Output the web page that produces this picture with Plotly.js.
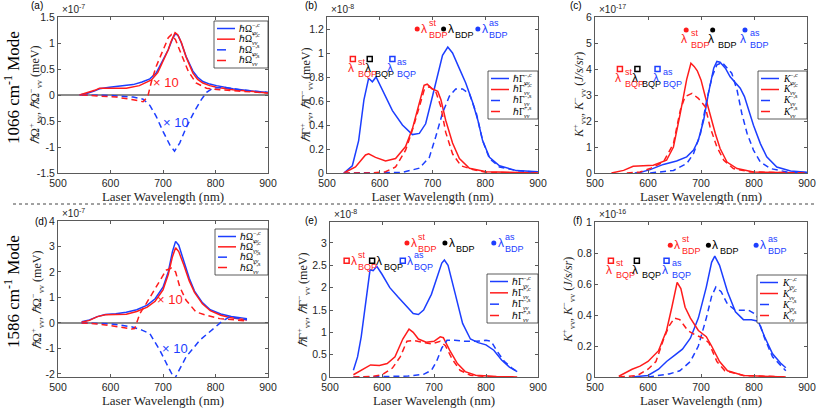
<!DOCTYPE html>
<html><head><meta charset="utf-8">
<script src="https://cdn.plot.ly/plotly-3.0.1.min.js"></script>
<style>html,body{margin:0;padding:0;background:#fff}#chart{width:817px;height:409px}</style>
</head><body><div id="chart"></div>
<script>
// ---------- DATA ----------
// (a) 1066 cm-1, hbar*Omega (x1e-7 meV); s-components shown x10
const a_mc_x=[541,555,570,579,598,620,643,660,675,687,694,702,710,715,719,724,729,735,744,757,766,776,789,802,833,865,900];
const a_mc_y=[0,0.03,0.08,0.12,0.15,0.17,0.2,0.25,0.31,0.42,0.55,0.7,0.87,1.0,1.1,1.18,1.14,1.0,0.74,0.46,0.34,0.26,0.21,0.18,0.12,0.08,0.05];
const a_pc_x=[541,555,570,579,590,605,630,655,678,690,697,705,710,715,719,723,728,735,744,757,766,776,789,802,833,865,900];
const a_pc_y=[0,0.04,0.09,0.13,0.13,0.12,0.13,0.18,0.29,0.43,0.58,0.74,0.87,1.02,1.12,1.2,1.16,1.01,0.73,0.42,0.3,0.23,0.18,0.15,0.1,0.07,0.04];
const a_ms_x=[545,600,643,662,675,687,700,713,722,732,744,760,773,783,795,814,846,900];
const a_ms_y=[0,-0.01,-0.04,-0.08,-0.2,-0.41,-0.7,-0.96,-1.08,-0.92,-0.63,-0.31,-0.09,0.05,0.13,0.15,0.1,0.05];
const a_ps_x=[545,580,611,643,662,671,678,687,700,710,716,724,735,748,763,783,808,846,900];
const a_ps_y=[0,-0.02,-0.04,-0.09,-0.13,-0.03,0.26,0.55,0.87,1.1,1.16,1.06,0.78,0.46,0.23,0.13,0.1,0.07,0.04];
// (b) 1066 cm-1, hbar*Gamma (x1e-8 meV)
const b_mc_x=[532,548,560,570,579,586,593,605,624,643,662,675,687,700,710,719,729,738,751,763,776,786,795,808,827,859,900];
const b_mc_y=[0,0.06,0.27,0.61,0.79,0.76,0.8,0.69,0.52,0.4,0.32,0.33,0.41,0.64,0.83,0.98,1.05,1.0,0.87,0.75,0.59,0.44,0.27,0.13,0.06,0.02,0.01];
const b_pc_x=[532,554,573,579,592,611,630,649,662,675,684,690,700,710,716,725,738,751,770,802,900];
const b_pc_y=[0,0.05,0.15,0.16,0.13,0.1,0.12,0.22,0.37,0.58,0.73,0.74,0.7,0.68,0.61,0.44,0.25,0.12,0.04,0.01,0];
const b_ms_x=[532,600,643,675,694,706,719,732,744,757,770,783,795,808,827,859,900];
const b_ms_y=[0,0.002,0.005,0.04,0.13,0.3,0.5,0.64,0.7,0.7,0.66,0.5,0.27,0.12,0.05,0.02,0.005];
const b_ps_x=[532,579,611,630,649,662,675,684,694,706,716,725,738,754,776,802,900];
const b_ps_y=[0,0,0.01,0.05,0.19,0.36,0.55,0.69,0.72,0.68,0.55,0.34,0.16,0.06,0.03,0.005,0];
// (c) 1066 cm-1, K (x1e-17 J/s/sr)
const c_mc_x=[575,585,604,629,654,673,686,695,705,714,724,730,736,746,755,765,774,782,790,799,812,824,843,869,900];
const c_mc_y=[0,0.02,0.13,0.33,0.46,0.62,0.88,1.26,2.03,3.06,4.03,4.29,4.26,4.03,3.7,3.45,3.26,2.94,2.42,1.84,1.13,0.62,0.23,0.08,0.03];
const c_pc_x=[531,554,572,585,610,635,648,661,673,681,687,693,700,708,717,727,736,749,768,799,900];
const c_pc_y=[0,0.1,0.26,0.27,0.3,0.49,1.0,2.3,3.6,4.22,4.1,3.93,3.58,2.94,2.23,1.52,0.94,0.42,0.17,0.04,0];
const c_ms_x=[604,648,673,686,699,711,721,730,740,749,758,768,777,787,799,812,831,862,900];
const c_ms_y=[0,0.1,0.36,0.75,1.52,2.81,3.71,4.16,4.25,4.03,3.84,3.19,2.29,1.52,0.88,0.42,0.17,0.04,0.01];
const c_ps_x=[560,585,604,629,648,661,670,683,695,708,717,730,743,761,793,900];
const c_ps_y=[0,0.04,0.17,0.42,1.13,2.42,2.94,3.06,2.87,2.55,1.78,1.0,0.49,0.17,0.04,0];
// (d) 1586 cm-1, hbar*Omega (x1e-7 meV)
const d_mc_x=[545,560,575,590,610,630,650,670,685,700,710,718,724,730,740,750,760,775,790,810,830,845,860];
const d_mc_y=[0.05,0.12,0.25,0.33,0.36,0.42,0.52,0.7,0.95,1.4,2.0,2.8,3.2,3.05,2.4,1.75,1.25,0.8,0.52,0.35,0.25,0.2,0.17];
const d_pc_x=[545,560,575,590,610,630,650,670,685,700,710,718,724,730,740,750,760,775,790,810,830,845,860];
const d_pc_y=[0.03,0.1,0.25,0.32,0.33,0.34,0.45,0.62,0.85,1.3,1.9,2.6,2.95,2.8,2.25,1.65,1.2,0.75,0.48,0.3,0.2,0.15,0.12];
const d_ms_x=[545,600,640,660,675,694,710,722,732,744,770,795,811,827,846,860];
const d_ms_y=[0,-0.03,-0.15,-0.28,-0.42,-1.07,-1.73,-2.2,-1.8,-1.33,-0.68,-0.22,0.04,0.24,0.17,0.13];
const d_ps_x=[545,570,600,625,640,646,656,668,681,694,706,716,724,732,744,763,783,808,830,860];
const d_ps_y=[0,-0.03,-0.1,-0.18,-0.24,-0.22,0.37,0.76,1.22,1.67,2.07,2.15,2.0,1.41,0.89,0.43,0.3,0.17,0.12,0.08];
// (e) 1586 cm-1, hbar*Gamma (x1e-8 meV)
const e_mc_x=[545,553,560,570,577,583,590,600,615,630,645,660,670,680,695,705,715,720,727,740,755,770,785,800,815,830,845,860];
const e_mc_y=[0.15,0.45,0.9,1.8,2.4,2.38,2.48,2.3,2.0,1.8,1.6,1.42,1.4,1.5,1.85,2.2,2.55,2.62,2.5,1.9,1.2,0.85,0.77,0.72,0.6,0.38,0.22,0.12];
const e_pc_x=[545,560,578,595,610,625,640,652,660,670,685,700,712,718,730,745,760,780,820,860];
const e_pc_y=[0.05,0.15,0.27,0.26,0.3,0.45,0.85,1.07,1.0,0.85,0.78,0.8,0.9,0.88,0.6,0.3,0.12,0.04,0.01,0];
const e_ms_x=[545,650,680,695,705,715,725,740,760,780,800,810,820,835,850,860];
const e_ms_y=[0,0.02,0.06,0.15,0.35,0.65,0.82,0.82,0.8,0.8,0.82,0.8,0.6,0.35,0.2,0.12];
const e_ps_x=[545,580,600,620,635,648,660,675,695,712,722,735,750,770,800,860];
const e_ps_y=[0,0.01,0.05,0.2,0.45,0.8,0.82,0.78,0.74,0.8,0.7,0.4,0.15,0.04,0.01,0];
// (f) 1586 cm-1, K (x1e-16 J/s/sr)
const f_mc_x=[570,600,620,635,650,665,680,695,710,720,726,735,750,765,780,795,808,820,835,850,860];
const f_mc_y=[0,0.01,0.05,0.1,0.14,0.18,0.25,0.38,0.58,0.74,0.78,0.72,0.55,0.42,0.37,0.37,0.36,0.26,0.15,0.09,0.06];
const f_pc_x=[545,570,585,600,620,635,645,655,662,670,680,695,710,720,735,750,780,860];
const f_pc_y=[0.005,0.05,0.07,0.1,0.17,0.3,0.45,0.61,0.57,0.45,0.38,0.3,0.26,0.2,0.1,0.04,0.01,0];
const f_ms_x=[600,640,660,680,695,710,720,728,738,750,765,790,805,820,835,850,860];
const f_ms_y=[0,0.02,0.04,0.1,0.2,0.38,0.52,0.58,0.55,0.47,0.43,0.43,0.4,0.25,0.13,0.08,0.04];
const f_ps_x=[545,580,600,615,630,640,650,660,675,690,705,715,730,745,780,860];
const f_ps_y=[0,0.01,0.05,0.1,0.25,0.33,0.38,0.37,0.3,0.27,0.25,0.22,0.1,0.04,0.01,0];

// lambda markers: squares = BQP-related, circles = BDP-related (order: st, plain, as)
const b_sq_x=[549,581,624], b_sq_y=[0.95,0.95,0.95], b_ci_x=[671,721,786], b_ci_y=[1.2,1.2,1.2];
const c_sq_x=[547,580,618], c_sq_y=[4.0,4.0,4.0], c_ci_x=[672,722,783], c_ci_y=[5.5,5.5,5.5];
const e_sq_x=[532,581,640], e_sq_y=[2.6,2.6,2.6], e_ci_x=[648,721,815], e_ci_y=[3.0,3.0,3.0];
const f_sq_x=[530,579,635], f_sq_y=[0.75,0.75,0.75], f_ci_x=[642,714,804], f_ci_y=[0.85,0.85,0.85];
const lamSup=['st','','as'];

// "x 10" magnification notes [x, y]
const a_x10_red=[705,0.24], a_x10_blue=[724,-0.53];
const d_x10_red=[714,0.92], d_x10_blue=[723,-1.0];

// tick labels
const xTicks=[500,600,700,800,900];
const aTickVals=[-1.5,-1,-0.5,0,0.5,1,1.5], aTickText=['-1.5','-1','-0.5','0','0.5','1','1.5'];
const dTickVals=[-2,-1,0,1,2,3,4], dTickText=['-2','-1','0','1','2','3','4'];
const legSup=['−,c','+,c','−,s','+,s'];

// ---------- STYLE ----------
const BLUE='rgb(28,62,255)', RED='rgb(255,28,28)', BLACK='#000';
const SERIF='"Liberation Serif","Times New Roman",serif';
const SANS='"Liberation Sans",Arial,Helvetica,sans-serif';
const W=817,H=409;
const AXC='#5a5a5a';
const px=v=>v/W, py=v=>1-v/H;

const panels=[
 {s:'', box:[58,268,17,173], yr:[-1.5,1.5], tv:aTickVals, tt:aTickText, exp:'×10<sup>-7</sup>', lab:'(a)', labP:[37,6], zero:true,
  yt:'<i>ℏ</i>Ω<sup>+</sup><sub>vv</sub>, <i>ℏ</i>Ω<sup>−</sup><sub>vv</sub> (meV)', ytP:[35,95],
  ser:[[a_mc_x,a_mc_y],[a_pc_x,a_pc_y],[a_ms_x,a_ms_y],[a_ps_x,a_ps_y]], leg:[214,268,21,68], lb:'ℏΩ', lbw:12.5},
 {s:'2', box:[327,538,17,173], yr:[0,1.3], dt:0.2, exp:'×10<sup>-8</sup>', lab:'(b)', labP:[311,6],
  yt:'<i>ℏ</i>Γ<sup>+</sup><sub>vv</sub>, <i>ℏ</i>Γ<sup>−</sup><sub>vv</sub> (meV)', ytP:[306,95],
  ser:[[b_mc_x,b_mc_y],[b_pc_x,b_pc_y],[b_ms_x,b_ms_y],[b_ps_x,b_ps_y]], leg:[488,538,71,119], lb:'ℏΓ', lbw:11,
  sq:[b_sq_x,b_sq_y,'below'], ci:[b_ci_x,b_ci_y,'right']},
 {s:'3', box:[595,807,17,173], yr:[0,6], dt:1, exp:'×10<sup>-17</sup>', lab:'(c)', labP:[576,6],
  yt:'<i>K</i><sup>+</sup><sub>vv</sub>, <i>K</i><sup>−</sup><sub>vv</sub> (<i>J/s/sr</i>)', ytP:[579,95],
  ser:[[c_mc_x,c_mc_y],[c_pc_x,c_pc_y],[c_ms_x,c_ms_y],[c_ps_x,c_ps_y]], leg:[758,807,71,119], lb:'<i>K</i>', lbw:7,
  sq:[c_sq_x,c_sq_y,'below'], ci:[c_ci_x,c_ci_y,'below']},
 {s:'4', box:[58,268,221,377], yr:[-2.12,4], tv:dTickVals, tt:dTickText, exp:'×10<sup>-7</sup>', lab:'(d)', labP:[41,221], zero:true,
  yt:'<i>ℏ</i>Ω<sup>+</sup><sub>vv</sub>, <i>ℏ</i>Ω<sup>−</sup><sub>vv</sub> (meV)', ytP:[37,300],
  ser:[[d_mc_x,d_mc_y],[d_pc_x,d_pc_y],[d_ms_x,d_ms_y],[d_ps_x,d_ps_y]], leg:[215,268,229,275], lb:'ℏΩ', lbw:12.5},
 {s:'5', box:[330,538,222,377], yr:[0,3.47], dt:0.5, exp:'×10<sup>-8</sup>', lab:'(e)', labP:[311,220],
  yt:'<i>ℏ</i>Γ<sup>+</sup><sub>vv</sub>, <i>ℏ</i>Γ<sup>−</sup><sub>vv</sub> (meV)', ytP:[303,300],
  ser:[[e_mc_x,e_mc_y],[e_pc_x,e_pc_y],[e_ms_x,e_ms_y],[e_ps_x,e_ps_y]], leg:[487,538,274,323], lb:'ℏΓ', lbw:11,
  sq:[e_sq_x,e_sq_y,'right'], ci:[e_ci_x,e_ci_y,'right']},
 {s:'6', box:[595,807,222,377], yr:[0,1], dt:0.2, exp:'×10<sup>-16</sup>', lab:'(f)', labP:[577,220],
  yt:'<i>K</i><sup>+</sup><sub>vv</sub>, <i>K</i><sup>−</sup><sub>vv</sub> (<i>J/s/sr</i>)', ytP:[568,300],
  ser:[[f_mc_x,f_mc_y],[f_pc_x,f_pc_y],[f_ms_x,f_ms_y],[f_ps_x,f_ps_y]], leg:[757,807,275,323], lb:'<i>K</i>', lbw:7,
  sq:[f_sq_x,f_sq_y,'below'], ci:[f_ci_x,f_ci_y,'right']}
];

const colors=[BLUE,RED,BLUE,RED];
const dashes=['solid','solid','6px,4px','6px,4px'];
const lamColors=[RED,BLACK,BLUE];
const traces=[], anns=[], shapes=[];
const layout={width:W,height:H,margin:{l:0,r:0,t:0,b:0},paper_bgcolor:'#fff',plot_bgcolor:'#fff',showlegend:false,
  font:{family:SANS,size:10,color:'#262626'}};

function lamLabel(s,x,y,color,sup,sub,mode){
  const b={xref:'x'+s,yref:'y'+s,x:x,y:y,showarrow:false,borderpad:0,align:'left'};
  const fs={family:SANS,size:9,color:color};
  if(mode==='right'){
    anns.push({...b,text:'λ',font:{family:SANS,size:12,color:color},xanchor:'left',yanchor:'middle',xshift:3,yshift:0});
    if(sup) anns.push({...b,text:sup+'<br>'+sub,font:fs,xanchor:'left',yanchor:'middle',xshift:10.5,yshift:0});
    else anns.push({...b,text:sub,font:fs,xanchor:'left',yanchor:'middle',xshift:10.5,yshift:-6});
  } else {
    anns.push({...b,text:'λ',font:{family:SANS,size:12,color:color},xanchor:'center',yanchor:'middle',xshift:-2,yshift:-9});
    if(sup) anns.push({...b,text:sup+'<br>'+sub,font:fs,xanchor:'left',yanchor:'middle',xshift:4,yshift:-8.5});
    else anns.push({...b,text:sub,font:fs,xanchor:'left',yanchor:'middle',xshift:4,yshift:-14.5});
  }
}

panels.forEach(p=>{
  const xa='xaxis'+p.s, ya='yaxis'+p.s, xr='x'+p.s, yr='y'+p.s;
  const common={showline:true,linecolor:AXC,linewidth:1,mirror:'ticks',ticks:'inside',ticklen:3,tickcolor:AXC,
    showgrid:false,tickfont:{family:SANS,size:10.5,color:'#262626'}};
  layout[xa]={...common,domain:[px(p.box[0]),px(p.box[1])],anchor:yr,range:[500,900],tickvals:xTicks,zeroline:false,
    title:{text:'Laser Wavelength (nm)',font:{family:SERIF,size:13,color:'#262626'},standoff:3}};
  layout[ya]={...common,domain:[py(p.box[3]),py(p.box[2])],anchor:xr,range:p.yr,
    zeroline:!!p.zero,zerolinecolor:'#8c8c8c',zerolinewidth:2};
  if(p.tv){layout[ya].tickvals=p.tv;layout[ya].ticktext=p.tt;} else {layout[ya].dtick=p.dt;layout[ya].tick0=0;}
  // y-axis title as rotated annotation for exact placement
  anns.push({xref:'paper',yref:'paper',x:px(p.ytP[0]),y:py(p.ytP[1]),xanchor:'center',yanchor:'middle',textangle:-90,
    showarrow:false,text:p.yt,font:{family:SERIF,size:12,color:'#262626'}});
  p.ser.forEach((sv,i)=>{
    traces.push({x:sv[0],y:sv[1],xaxis:xr,yaxis:yr,mode:'lines',hoverinfo:'skip',
      line:{color:colors[i],width:1.5,dash:dashes[i]}});
  });
  if(p.sq){
    traces.push({x:p.sq[0],y:p.sq[1],xaxis:xr,yaxis:yr,mode:'markers',hoverinfo:'skip',
      marker:{symbol:'square-open',size:5,color:lamColors,line:{width:1.5,color:lamColors}}});
    traces.push({x:p.ci[0],y:p.ci[1],xaxis:xr,yaxis:yr,mode:'markers',hoverinfo:'skip',
      marker:{symbol:'circle',size:5,color:lamColors}});
    p.sq[0].forEach((x,k)=>lamLabel(p.s,x,p.sq[1][k],lamColors[k],lamSup[k],'BQP',p.sq[2]));
    p.ci[0].forEach((x,k)=>lamLabel(p.s,x,p.ci[1][k],lamColors[k],lamSup[k],'BDP',p.ci[2]));
  }
  // exponent and panel label
  anns.push({xref:'paper',yref:'paper',x:px(p.box[0]),y:py(p.box[2]),xanchor:'left',yanchor:'bottom',xshift:2,yshift:0,
    text:p.exp,showarrow:false,font:{family:SANS,size:10,color:'#262626'}});
  anns.push({xref:'paper',yref:'paper',x:px(p.labP[0]),y:py(p.labP[1]),xanchor:'center',yanchor:'middle',
    text:p.lab,showarrow:false,font:{family:SANS,size:10,color:'#000'}});
  // legend box
  const L=p.leg;
  shapes.push({type:'rect',xref:'paper',yref:'paper',x0:px(L[0]),x1:px(L[1]),y0:py(L[3]),y1:py(L[2]),
    line:{color:'#333',width:0.8},fillcolor:'#fff',layer:'above'});
  const step=(L[3]-L[2]-15)/3;
  for(let i=0;i<4;i++){
    const yy=L[2]+7.5+i*step;
    shapes.push({type:'line',xref:'paper',yref:'paper',x0:px(L[0]+3),x1:px(L[0]+21),y0:py(yy),y1:py(yy),
      line:{color:colors[i],width:1.5,dash:i<2?'solid':'dash'},layer:'above'});
    anns.push({xref:'paper',yref:'paper',x:px(L[0]+24),y:py(yy),xanchor:'left',yanchor:'middle',showarrow:false,borderpad:0,
      text:p.lb,font:{family:SERIF,size:9.5,color:'#000'}});
    anns.push({xref:'paper',yref:'paper',x:px(L[0]+24+p.lbw),y:py(yy),xanchor:'left',yanchor:'middle',showarrow:false,borderpad:0,
      align:'left',text:legSup[i]+'<br><i>vv</i>',font:{family:SERIF,size:6,color:'#000'}});
  }
});

// x10 notes
[[ '',a_x10_red,RED],['',a_x10_blue,BLUE],['4',d_x10_red,RED],['4',d_x10_blue,BLUE]].forEach(n=>{
  anns.push({xref:'x'+n[0],yref:'y'+n[0],x:n[1][0],y:n[1][1],text:'× 10',showarrow:false,
    font:{family:SANS,size:13,color:n[2]}});
});
// row labels
anns.push({xref:'paper',yref:'paper',x:px(12),y:py(88),xanchor:'center',yanchor:'middle',textangle:-90,showarrow:false,
  text:'1066 cm<sup>-1</sup> Mode',font:{family:SERIF,size:17,color:'#000'}});
anns.push({xref:'paper',yref:'paper',x:px(12),y:py(292),xanchor:'center',yanchor:'middle',textangle:-90,showarrow:false,
  text:'1586 cm<sup>-1</sup> Mode',font:{family:SERIF,size:17,color:'#000'}});
// dotted separator
shapes.push({type:'line',xref:'paper',yref:'paper',x0:px(13),x1:1,y0:py(204),y1:py(204),line:{color:'#444',width:1,dash:'dot'}});

layout.annotations=anns; layout.shapes=shapes;
Plotly.newPlot('chart',traces,layout,{displayModeBar:false,staticPlot:true});
</script></body></html>
